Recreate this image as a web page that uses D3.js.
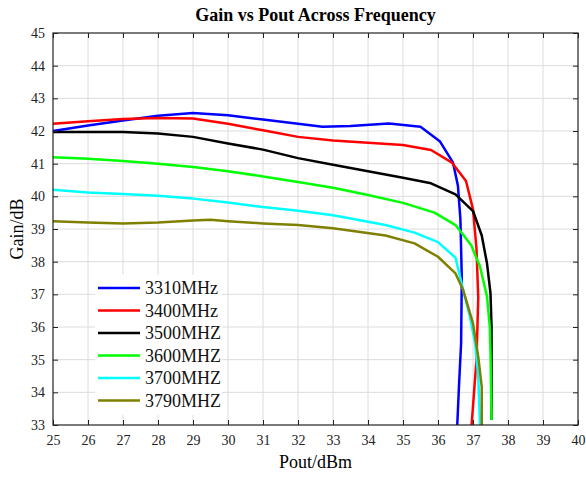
<!DOCTYPE html>
<html>
<head>
<meta charset="utf-8">
<script src="https://cdn.jsdelivr.net/npm/d3@7"></script>
<style>
  body { margin: 0; background: #fff; }
</style>
</head>
<body>
<svg id="chart" width="586" height="480"></svg>
<script>
var SERIF = "Liberation Serif, Times New Roman, serif";

// tick values
var xTicks = d3.range(25, 41, 1);
var yTicks = d3.range(33, 46, 1);

// series
var labels = ["3310MHz", "3400MHz", "3500MHZ", "3600MHZ", "3700MHZ", "3790MHZ"];
var colors = ["#0000ff", "#ff0000", "#000000", "#00ff00", "#00ffff", "#808000"];

var pout3310 = [25, 26, 27, 28, 29, 30, 31, 32, 32.7, 33.5, 34.6, 35.5, 36.05, 36.43, 36.57, 36.64, 36.68, 36.66, 36.6, 36.55];
var gain3310 = [42.0, 42.17, 42.32, 42.47, 42.55, 42.48, 42.35, 42.22, 42.13, 42.15, 42.23, 42.13, 41.69, 41.03, 40.32, 39.3, 37.5, 35.5, 34.2, 33.0];

var pout3400 = [25, 26, 27, 28, 29, 30, 31, 32, 33, 34, 35, 35.8, 36.4, 36.8, 37.0, 37.1, 37.15, 37.1, 37.03, 36.96];
var gain3400 = [42.22, 42.3, 42.37, 42.4, 42.38, 42.22, 42.02, 41.82, 41.71, 41.64, 41.57, 41.42, 41.03, 40.47, 39.6, 38.4, 36.9, 35.0, 34.0, 33.0];

var pout3500 = [25, 26, 27, 28, 29, 30, 31, 32, 33, 34, 35, 35.8, 36.5, 37.0, 37.25, 37.4, 37.5, 37.53, 37.53];
var gain3500 = [41.97, 41.97, 41.97, 41.92, 41.82, 41.62, 41.43, 41.17, 40.97, 40.77, 40.57, 40.4, 40.06, 39.55, 38.8, 37.95, 37.03, 36.0, 33.15];

var pout3600 = [25, 26, 27, 28, 29, 30, 31, 32, 33, 34, 35, 35.9, 36.5, 36.95, 37.2, 37.4, 37.48, 37.5, 37.53];
var gain3600 = [41.2, 41.15, 41.08, 41.0, 40.9, 40.77, 40.61, 40.44, 40.26, 40.04, 39.8, 39.5, 39.12, 38.5, 37.85, 36.93, 36.0, 35.2, 33.15];

var pout3700 = [25, 26, 27, 28, 29, 30, 31, 32, 33, 34.5, 35.33, 36.0, 36.5, 36.72, 36.91, 37.06, 37.15, 37.2];
var gain3700 = [40.2, 40.12, 40.07, 40.02, 39.93, 39.81, 39.67, 39.56, 39.42, 39.12, 38.89, 38.6, 38.12, 37.13, 36.32, 35.5, 34.48, 33.0];

var pout3790 = [25, 26, 27, 28, 29, 29.5, 30, 31, 32, 33, 34.5, 35.33, 36.0, 36.5, 36.72, 37.0, 37.15, 37.25, 37.25];
var gain3790 = [39.24, 39.2, 39.17, 39.2, 39.26, 39.28, 39.24, 39.17, 39.12, 39.02, 38.8, 38.56, 38.15, 37.64, 37.13, 36.11, 35.09, 34.17, 33.0];

var pouts = [pout3310, pout3400, pout3500, pout3600, pout3700, pout3790];
var gains = [gain3310, gain3400, gain3500, gain3600, gain3700, gain3790];

var svg = d3.select("#chart");
var margin = { top: 33, right: 8, bottom: 55, left: 53 };
var width = 586 - margin.left - margin.right;
var height = 480 - margin.top - margin.bottom;

var x = d3.scaleLinear().domain([25, 40]).range([0, width]);
var y = d3.scaleLinear().domain([33, 45]).range([height, 0]);

var g = svg.append("g").attr("transform", "translate(" + margin.left + "," + margin.top + ")");

// grid
g.append("g").selectAll("line")
  .data(xTicks.slice(1, -1))
  .enter().append("line")
  .attr("x1", function(d) { return x(d); })
  .attr("x2", function(d) { return x(d); })
  .attr("y1", 0).attr("y2", height)
  .attr("stroke", "#dcdcdc").attr("stroke-width", 1);

g.append("g").selectAll("line")
  .data(yTicks.slice(1, -1))
  .enter().append("line")
  .attr("y1", function(d) { return y(d); })
  .attr("y2", function(d) { return y(d); })
  .attr("x1", 0).attr("x2", width)
  .attr("stroke", "#dcdcdc").attr("stroke-width", 1);

// series
var line = d3.line()
  .x(function(d) { return x(d[0]); })
  .y(function(d) { return y(d[1]); });

labels.forEach(function(name, i) {
  var pts = pouts[i].map(function(p, j) { return [p, gains[i][j]]; });
  g.append("path")
    .datum(pts)
    .attr("d", line)
    .attr("fill", "none")
    .attr("stroke", colors[i])
    .attr("stroke-width", 2.5)
    .attr("stroke-linejoin", "round");
});

// axes, ticks inside like a matlab box
var tickLen = 5;
var fmt = d3.format("d");

var xAxis = g.append("g").attr("transform", "translate(0," + height + ")")
  .call(d3.axisBottom(x).tickValues(xTicks).tickFormat(fmt).tickSizeInner(-tickLen).tickSizeOuter(0).tickPadding(10));
var xTop = g.append("g")
  .call(d3.axisTop(x).tickValues(xTicks).tickFormat("").tickSizeInner(-tickLen).tickSizeOuter(0));
var yAxis = g.append("g")
  .call(d3.axisLeft(y).tickValues(yTicks).tickFormat(fmt).tickSizeInner(-tickLen).tickSizeOuter(0).tickPadding(8));
var yRight = g.append("g").attr("transform", "translate(" + width + ",0)")
  .call(d3.axisRight(y).tickValues(yTicks).tickFormat("").tickSizeInner(-tickLen).tickSizeOuter(0));

[xAxis, xTop, yAxis, yRight].forEach(function(a) {
  a.attr("font-family", SERIF).attr("font-size", 14);
  a.select(".domain").remove();
  a.selectAll("line").attr("stroke", "#222").attr("stroke-width", 1);
  a.selectAll("text").attr("fill", "#222");
});

g.append("rect")
  .attr("x", 0).attr("y", 0)
  .attr("width", width).attr("height", height)
  .attr("fill", "none")
  .attr("stroke", "#222")
  .attr("stroke-width", 1.2);

// legend
var legend = g.append("g")
  .attr("transform", "translate(" + (95 - margin.left) + "," + (275 - margin.top) + ")")
  .attr("font-family", SERIF);
legend.append("rect")
  .attr("width", 127).attr("height", 140)
  .attr("fill", "#fff");

labels.forEach(function(name, i) {
  var row = legend.append("g").attr("transform", "translate(0," + (13 + i * 22.5) + ")");
  row.append("line")
    .attr("x1", 3).attr("x2", 45)
    .attr("stroke", colors[i]).attr("stroke-width", 2.5);
  row.append("text")
    .attr("x", 50).attr("y", 0)
    .attr("dy", "0.35em")
    .attr("font-size", 18)
    .attr("fill", "#111")
    .text(name);
});

// titles
svg.append("text")
  .attr("x", margin.left + width / 2).attr("y", 21)
  .attr("text-anchor", "middle")
  .attr("font-family", SERIF)
  .attr("font-size", 18)
  .attr("font-weight", "bold")
  .text("Gain vs Pout Across Frequency");

svg.append("text")
  .attr("x", margin.left + width / 2).attr("y", 468)
  .attr("text-anchor", "middle")
  .attr("font-family", SERIF)
  .attr("font-size", 18)
  .text("Pout/dBm");

svg.append("text")
  .attr("transform", "translate(23," + (margin.top + height / 2) + ") rotate(-90)")
  .attr("text-anchor", "middle")
  .attr("font-family", SERIF)
  .attr("font-size", 18)
  .text("Gain/dB");
</script>
</body>
</html>
